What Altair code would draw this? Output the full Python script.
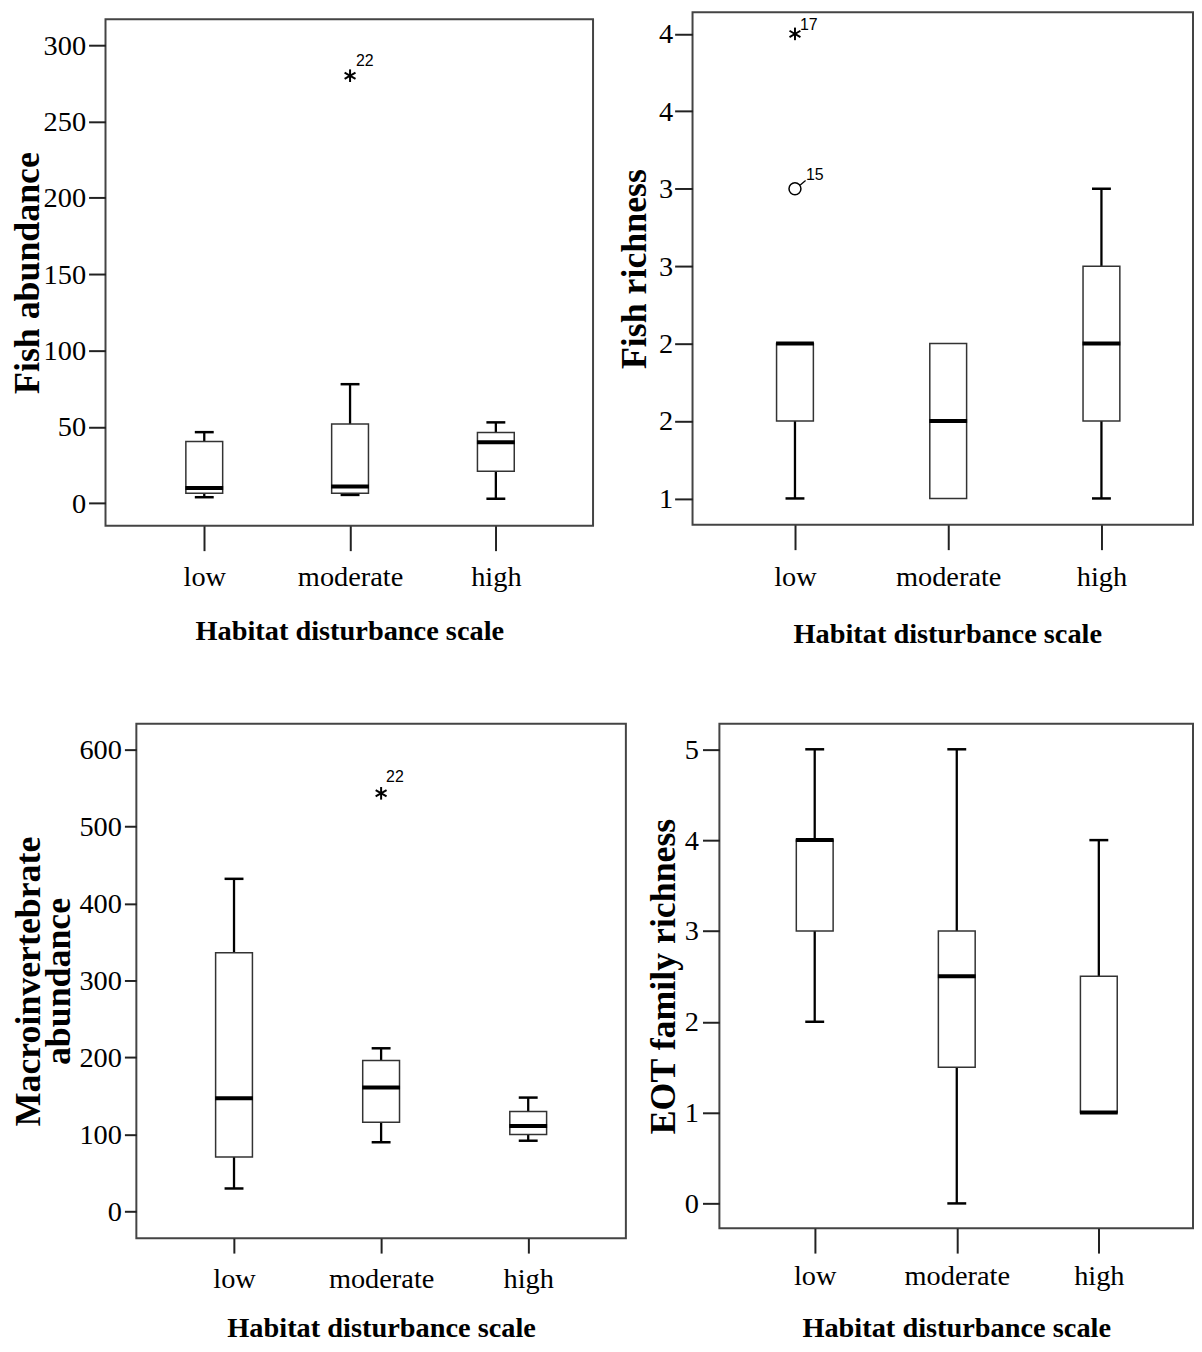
import altair as alt
import pandas as pd

# ---------------- data ----------------
cats = ["low", "moderate", "high"]

# Fish abundance
fa_lo = [4, 5.5, 3]
fa_q1 = [6.6, 6.6, 21]
fa_med = [10, 11, 40]
fa_q3 = [40.5, 52, 46.3]
fa_hi = [46.6, 78, 53]
fa_out_cat = ["moderate"]
fa_out_val = [280]
fa_out_lab = ["22"]
fa_out_kind = ["star"]

# Fish richness
fr_lo = [1, 1, 1]
fr_q1 = [1.5, 1, 1.5]
fr_med = [2, 1.5, 2]
fr_q3 = [2, 2, 2.5]
fr_hi = [2, 2, 3]
fr_out_cat = ["low", "low"]
fr_out_val = [4, 3]
fr_out_lab = ["17", "15"]
fr_out_kind = ["star", "circle"]

# Macroinvertebrate abundance
ma_lo = [30, 90, 92]
ma_q1 = [71, 116, 100]
ma_med = [147, 161, 111]
ma_q3 = [336, 196, 130]
ma_hi = [432, 212, 148]
ma_out_cat = ["moderate"]
ma_out_val = [543]
ma_out_lab = ["22"]
ma_out_kind = ["star"]

# EOT family richness
eo_lo = [2, 0, 1]
eo_q1 = [3, 1.5, 1]
eo_med = [4, 2.5, 1]
eo_q3 = [4, 3, 2.5]
eo_hi = [5, 5, 4]

fa_ticks = [0, 50, 100, 150, 200, 250, 300]
fr_ticks = [1, 1.5, 2, 2.5, 3, 3.5, 4]
ma_ticks = [0, 100, 200, 300, 400, 500, 600]
eo_ticks = [0, 1, 2, 3, 4, 5]

SERIF = "Liberation Serif"
SANS = "Liberation Sans"
XTITLE = "Habitat disturbance scale"


def box_df(lo, q1, med, q3, hi):
    return pd.DataFrame({"cat": cats, "lo": lo, "q1": q1, "med": med, "q3": q3, "hi": hi})


def out_df(c, v, l, k):
    return pd.DataFrame({"cat": c, "val": v, "lab": l, "kind": k})


def panel(df, outs, cfg):
    xscale = alt.Scale(type="point", domain=cats, padding=cfg["xpad"], align=cfg["xalign"])
    yscale = alt.Scale(domain=cfg["ydom"], nice=False, zero=False)
    xkw = dict(
        title=XTITLE, titleFont=SERIF, titleFontSize=28.5, titleFontWeight="bold",
        titleColor="black", titleBaseline="middle", titleY=cfg["xty"],
        labelFont=SERIF, labelFontSize=28.5, labelColor="black", labelAngle=0,
        labelPadding=cfg["xlp"], tickSize=cfg["xts"], tickWidth=2, tickColor="#222",
        domain=False, grid=False,
    )
    if "xtx" in cfg:
        xkw["titleX"] = cfg["xtx"]
    xaxis = alt.Axis(**xkw)
    yaxis = alt.Axis(
        title=cfg["title"], values=cfg["yticks"], format=cfg["fmt"],
        titleFont=SERIF, titleFontSize=36, titleFontWeight="bold", titleColor="black",
        titleBaseline="middle", titleX=cfg["ytx"], titleLineHeight=30,
        labelFont=SERIF, labelFontSize=28.5, labelColor="black", labelPadding=cfg["ylp"],
        tickSize=cfg["yts"], tickWidth=2, tickColor="#222", domain=False, grid=False,
    )

    def X(ax=None):
        if ax is None:
            return alt.X("cat:N", scale=xscale, title=XTITLE)
        return alt.X("cat:N", scale=xscale, axis=ax)

    def Y(f, ax=None):
        if ax is None:
            return alt.Y(f + ":Q", scale=yscale, title=cfg["title"])
        return alt.Y(f + ":Q", scale=yscale, axis=ax)

    base = alt.Chart(df)
    rule = base.mark_rule(color="black", strokeWidth=2.3, opacity=1).encode(
        x=X(xaxis), y=Y("lo", yaxis), y2="hi")
    ucap = base.transform_filter("datum.hi > datum.q3").mark_tick(
        color="black", size=19, thickness=2.5, opacity=1).encode(x=X(), y=Y("hi"))
    lcap = base.transform_filter("datum.lo < datum.q1").mark_tick(
        color="black", size=19, thickness=2.5, opacity=1).encode(x=X(), y=Y("lo"))
    box = base.mark_bar(size=37, fill="white", stroke="#333", strokeWidth=1.5,
                        opacity=1).encode(x=X(), y=Y("q1"), y2="q3")
    med = base.mark_tick(color="black", size=38, thickness=4, opacity=1).encode(
        x=X(), y=Y("med"))
    layers = [rule, ucap, lcap, box, med]

    if outs is not None:
        ob = alt.Chart(outs)
        if (outs["kind"] == "star").any():
            stars = ob.transform_filter("datum.kind == 'star'")
            for ang in (90, 30, 150):
                layers.append(stars.mark_point(
                    shape="stroke", angle=ang, size=160, filled=False, stroke="black",
                    strokeWidth=2, opacity=1).encode(x=X(), y=Y("val")))
            dx, dy = cfg["star_off"]
            layers.append(stars.mark_text(
                align="left", baseline="alphabetic", dx=dx, dy=dy, font=SANS,
                fontSize=16, color="black").encode(x=X(), y=Y("val"), text="lab:N"))
        if (outs["kind"] == "circle").any():
            circ = ob.transform_filter("datum.kind == 'circle'")
            layers.append(circ.mark_point(
                shape="circle", size=144, filled=False, stroke="black", strokeWidth=1.5,
                opacity=1).encode(x=X(), y=Y("val")))
            layers.append(circ.mark_point(
                shape="stroke", angle=320, size=49, xOffset=8, yOffset=-6,
                filled=False, stroke="black", strokeWidth=1.3, opacity=1
            ).encode(x=X(), y=Y("val")))
            dx, dy = cfg["circ_off"]
            layers.append(circ.mark_text(
                align="left", baseline="alphabetic", dx=dx, dy=dy, font=SANS,
                fontSize=16, color="black").encode(x=X(), y=Y("val"), text="lab:N"))
    return alt.layer(*layers).properties(width=cfg["w"], height=cfg["h"])


p1 = panel(
    box_df(fa_lo, fa_q1, fa_med, fa_q3, fa_hi),
    out_df(fa_out_cat, fa_out_val, fa_out_lab, fa_out_kind),
    dict(w=490, h=509, ydom=[-14.7, 316.9], yticks=fa_ticks, fmt="d",
         xpad=0.672, xalign=0.504, yts=17, xts=25, ylp=3, xlp=12,
         title="Fish abundance", ytx=-78, xty=105, star_off=(6, -10)),
)
p2 = panel(
    box_df(fr_lo, fr_q1, fr_med, fr_q3, fr_hi),
    out_df(fr_out_cat, fr_out_val, fr_out_lab, fr_out_kind),
    dict(w=503, h=515, ydom=[0.830, 4.139], yticks=fr_ticks, fmt=".0f",
         xpad=0.633, xalign=0.528, yts=18, xts=25, ylp=2, xlp=13,
         title="Fish richness", ytx=-58.5, xty=109, xtx=256,
         star_off=(5, -4), circ_off=(11, -9)),
)
p3 = panel(
    box_df(ma_lo, ma_q1, ma_med, ma_q3, ma_hi),
    out_df(ma_out_cat, ma_out_val, ma_out_lab, ma_out_kind),
    dict(w=492, h=517, ydom=[-34.5, 633.3], yticks=ma_ticks, fmt="d",
         xpad=0.664, xalign=0.5, yts=12, xts=15, ylp=3, xlp=12,
         title=["Macroinvertebrate", "abundance"], ytx=-108, xty=90,
         star_off=(5, -11)),
)
p4 = panel(
    box_df(eo_lo, eo_q1, eo_med, eo_q3, eo_hi),
    None,
    dict(w=476, h=507, ydom=[-0.273, 5.281], yticks=eo_ticks, fmt="d",
         xpad=0.667, xalign=0.503, yts=17, xts=25, ylp=4, xlp=9,
         title="EOT family richness", ytx=-56, xty=100),
)


def spacer(w, h):
    return alt.Chart(pd.DataFrame({"s": [0]})).mark_rule(opacity=0, strokeWidth=0).encode(
        x=alt.value(0), y=alt.value(0), y2=alt.value(0)
    ).properties(width=w, height=h,
                 view=alt.ViewBackground(stroke="transparent", strokeWidth=0))


row1 = alt.hconcat(
    spacer(1, 1),
    alt.hconcat(alt.vconcat(spacer(1, 6), p1, spacing=0), p2, spacing=21),
    spacing=0,
)
row2 = alt.hconcat(spacer(1, 1), alt.hconcat(p3, p4, spacing=18), spacing=0)

chart = alt.vconcat(row1, row2, spacing=74).properties(
    padding=0, background="white"
).configure_view(stroke="#444", strokeWidth=2)

chart.save("out.html", embed_options={"renderer": "svg", "actions": False})
